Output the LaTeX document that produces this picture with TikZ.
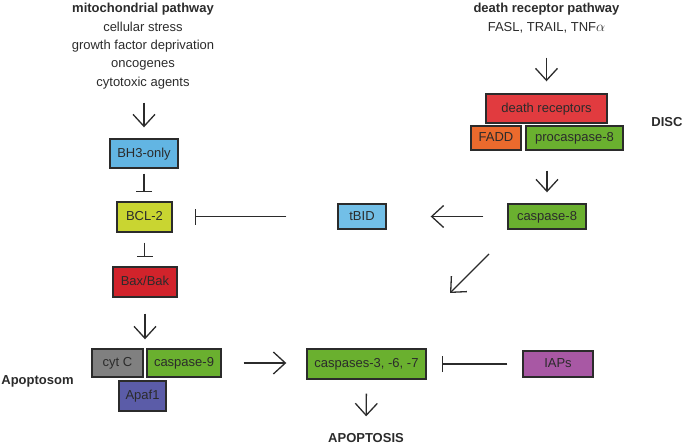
\documentclass[tikz,border=0pt]{standalone}
\usepackage{fontspec}
\setmainfont{Liberation Sans}
\usetikzlibrary{arrows.meta,calc}
\definecolor{bhblue}{HTML}{62B5E3}
\definecolor{tbidblue}{HTML}{72BFE7}
\definecolor{bclyellow}{HTML}{C9D531}
\definecolor{baxred}{HTML}{D1232B}
\definecolor{drred}{HTML}{E13B3F}
\definecolor{faddorange}{HTML}{EB6A2D}
\definecolor{casgreen}{HTML}{6AB02F}
\definecolor{cytgray}{HTML}{808080}
\definecolor{apafblue}{HTML}{5B5CA8}
\definecolor{iappurple}{HTML}{A858A4}
\definecolor{ink}{HTML}{2B2B2B}
\tikzset{
  box/.style={draw=ink, line width=1.4pt, inner sep=0pt, text=ink,
    text height=9.5pt, text depth=2.5pt,
    font=\fontsize{13}{15}\selectfont},
  txt/.style={inner sep=0pt, text=ink, text height=9.5pt, text depth=2.5pt,
    font=\fontsize{13}{15}\selectfont},
  ttl/.style={inner sep=0pt, text=ink, text height=9.5pt, text depth=2.5pt,
    font=\fontsize{13}{15}\selectfont\bfseries},
  arr/.style={draw=ink, line width=1.3pt, -{Straight Barb[length=12pt,width=22pt,line width=1.3pt]}},
  inh/.style={draw=ink, line width=1.3pt, -{Bar[width=16pt,line width=1.7pt]}}
}
\begin{document}
\begin{tikzpicture}[x=1pt,y=-1pt]
\useasboundingbox (0,0) rectangle (685,447);
% titles and texts
\node[ttl] (mito) at (143,9) {mitochondrial pathway};
\node[txt] (cs) at (143,27.5) {cellular stress};
\node[txt] (gf) at (143,45.5) {growth factor deprivation};
\node[txt] (onc) at (143,64) {oncogenes};
\node[txt] (cyto) at (143,82.5) {cytotoxic agents};
\node[ttl] (drp) at (546.5,9) {death receptor pathway};
\node[txt] (fasl) at (546.5,27.5) {FASL, TRAIL, TNF{\fontsize{14}{15}\selectfont$\alpha$}};
\node[ttl] (disc) at (667,122.5) {DISC};
\node[ttl] (apsom) at (37.5,380.5) {Apoptosom};
\node[ttl] (apop) at (366,438.5) {APOPTOSIS};
% boxes
\node[box, fill=bhblue, minimum width=68pt, minimum height=29pt] (bh3) at (144,153.5) {BH3-only};
\node[box, fill=bclyellow, minimum width=55pt, minimum height=30pt] (bcl) at (144.5,217) {BCL-2};
\node[box, fill=baxred, minimum width=64pt, minimum height=30pt] (bax) at (145,282) {Bax/Bak};
\node[box, fill=cytgray, minimum width=51pt, minimum height=28pt] (cytc) at (117.5,363) {cyt C};
\node[box, fill=casgreen, minimum width=74pt, minimum height=28pt] (casp9) at (184,363) {caspase-9};
\node[box, fill=apafblue, minimum width=47pt, minimum height=30pt] (apaf) at (142.5,396) {Apaf1};
\node[box, fill=casgreen, minimum width=119pt, minimum height=30pt] (c367) at (366.5,364) {caspases-3, -6, -7};
\node[box, fill=iappurple, minimum width=70pt, minimum height=26pt] (iap) at (558,364) {IAPs};
\node[box, fill=drred, minimum width=121pt, minimum height=29pt] (dr) at (546.5,108.5) {death receptors};
\node[box, fill=faddorange, minimum width=50pt, minimum height=24pt] (fadd) at (496,138) {FADD};
\node[box, fill=casgreen, minimum width=97pt, minimum height=24pt] (pc8) at (574.5,138) {procaspase-8};
\node[box, fill=casgreen, minimum width=78pt, minimum height=25pt] (c8) at (547,216.5) {caspase-8};
\node[box, fill=tbidblue, minimum width=48pt, minimum height=25pt] (tbid) at (362,216.5) {tBID};
% connectors
\draw[arr, shorten <=14pt, shorten >=11pt] (cyto.south -| bh3.north) -- (bh3.north);
\draw[inh, shorten <=5pt, shorten >=9pt] (bh3.south) -- (bh3.south |- bcl.north);
\draw[inh, shorten <=10pt, shorten >=9pt] (bcl.south) -- (bcl.south |- bax.north);
\draw[arr, shorten <=16pt, shorten >=9pt] (bax.south) -- (bax.south |- cytc.north);
\draw[arr, shorten <=22pt, shorten >=20pt] (casp9.east) -- (casp9.east -| c367.west);
\draw[inh, shorten <=15pt, shorten >=15pt] (iap.west) -- (iap.west -| c367.east);
\draw[arr, shorten <=14pt, shorten >=16pt] (c367.south) -- (apop.north);
\draw[arr, shorten <=24pt, shorten >=12pt] (fasl.south -| dr.north) -- (dr.north);
\draw[arr, shorten <=20pt, shorten >=11pt] (c8.north |- pc8.south) -- (c8.north);
\draw[arr, shorten <=24pt, shorten >=44pt] (c8.west) -- (c8.west -| tbid.east);
\draw[inh, shorten <=51pt, shorten >=22pt] (tbid.west) -- (tbid.west -| bcl.east);
\coordinate (dstart) at (489,254);
\coordinate (dend) at (450,293);
\draw[arr] (dstart) -- (dend);
\end{tikzpicture}
\end{document}
